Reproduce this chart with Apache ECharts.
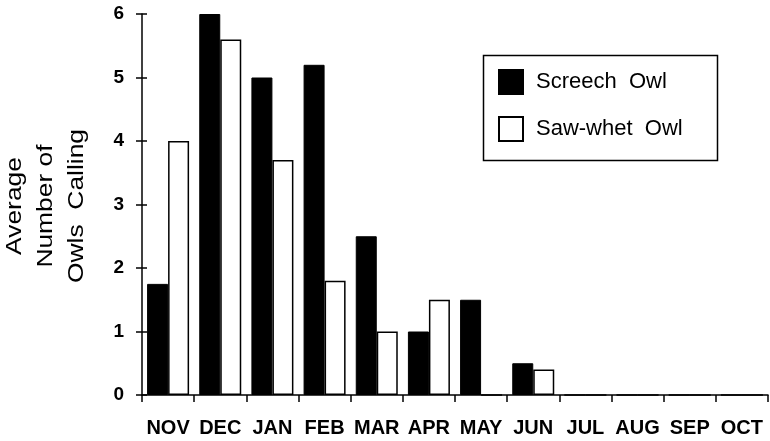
<!DOCTYPE html>
<html>
<head>
<meta charset="utf-8">
<script src="https://cdn.jsdelivr.net/npm/echarts@6/dist/echarts.min.js"></script>
<style>
html,body{margin:0;padding:0;background:#fff;}
#chart{width:770px;height:441px;}
</style>
</head>
<body>
<div id="chart"></div>
<script>
var months = ['NOV','DEC','JAN','FEB','MAR','APR','MAY','JUN','JUL','AUG','SEP','OCT'];
var screechOwl = [1.75, 6.0, 5.0, 5.2, 2.5, 1.0, 1.5, 0.5, 0, 0, 0, 0];
var sawWhetOwl = [4.0, 5.6, 3.7, 1.8, 1.0, 1.5, 0, 0.4, 0, 0, 0, 0];
var yTicks = [0, 1, 2, 3, 4, 5, 6];
var seriesNames = ['Screech  Owl', 'Saw-whet  Owl'];
var yTitle = 'Average\nNumber of\nOwls  Calling';

var chart = echarts.init(document.getElementById('chart'), null, {renderer: 'canvas'});
var font = '"Liberation Sans", Arial, Helvetica, sans-serif';
var yAxisBase = {
  type: 'value', min: yTicks[0], max: yTicks[yTicks.length - 1], interval: 1,
  splitLine: {show: false}
};
chart.setOption({
  animation: false,
  backgroundColor: '#fff',
  grid: {left: 142, right: 2, top: 14, bottom: 46},
  xAxis: {
    type: 'category', data: months, boundaryGap: true,
    axisLine: {lineStyle: {color: '#000', width: 1.5}},
    axisTick: {show: true, length: 7, lineStyle: {color: '#000', width: 1.5}},
    axisLabel: {color: '#000', fontFamily: font, fontSize: 20, fontWeight: 'bold', margin: 23, interval: 0}
  },
  yAxis: [
    Object.assign({}, yAxisBase, {
      axisLine: {show: true, lineStyle: {color: '#000', width: 1.5}},
      axisTick: {show: true, length: 6, lineStyle: {color: '#000', width: 1.5}},
      axisLabel: {color: '#000', fontFamily: font, fontSize: 19, fontWeight: 'bold', margin: 18}
    }),
    Object.assign({}, yAxisBase, {
      position: 'left', offset: 0,
      axisLine: {show: false},
      axisTick: {show: true, inside: true, length: 5, lineStyle: {color: '#000', width: 1.5}},
      axisLabel: {show: false}
    })
  ],
  legend: {
    orient: 'vertical', left: 498, top: 69, padding: 0,
    itemWidth: 24, itemHeight: 24, itemGap: 21,
    icon: 'rect',
    textStyle: {color: '#000', fontFamily: font, fontSize: 22, padding: [0, 0, 0, 8]},
    data: seriesNames
  },
  graphic: [
    {type: 'rect', left: 481, top: 53, shape: {width: 234, height: 105},
     style: {fill: 'none', stroke: '#000', lineWidth: 1.5}, z: 0},
    {type: 'text', x: 46, y: 206, rotation: Math.PI / 2, scaleX: 1.2,
     style: {text: yTitle, font: '22px ' + font, fill: '#000', textAlign: 'center', textVerticalAlign: 'middle', lineHeight: 31}}
  ],
  series: [
    {name: seriesNames[0], type: 'bar', data: screechOwl, barWidth: 21, barGap: '0%',
     itemStyle: {color: '#000', borderColor: '#000', borderWidth: 1}},
    {name: seriesNames[1], type: 'bar', data: sawWhetOwl, barWidth: 21, barGap: '0%',
     itemStyle: {color: '#fff', borderColor: '#000', borderWidth: 1.5}}
  ]
});
</script>
</body>
</html>
